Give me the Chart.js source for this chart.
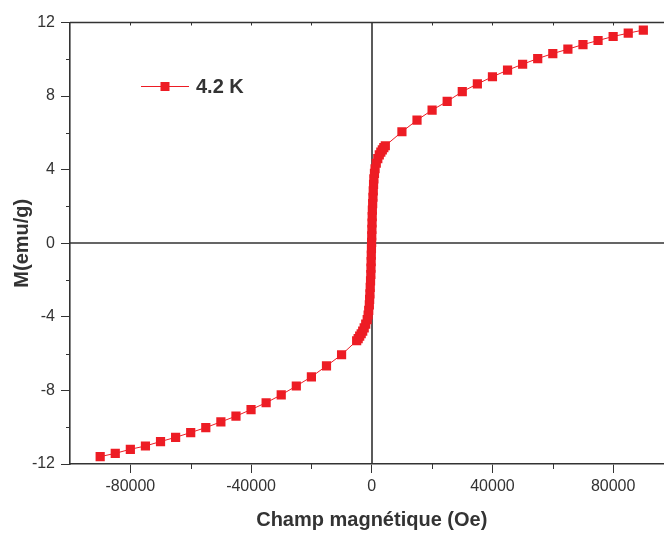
<!DOCTYPE html>
<html>
<head>
<meta charset="utf-8">
<title>M(H) 4.2 K</title>
<script src="https://cdn.jsdelivr.net/npm/chart.js@4/dist/chart.umd.min.js"></script>
<style>
    html, body { margin: 0; padding: 0; background: #ffffff; overflow: hidden; }
    /* la figure d'origine est coupee a droite */
    .wrap { position: relative; width: 664px; height: 533px; overflow: hidden; }
</style>
</head>
<body>
<div class="wrap">
    <canvas id="chart-1" width="680" height="533"></canvas>
</div>
<script>
// champ magnetique (Oe) et aimantation (emu/g)
const champ = [
    -90000, -85000, -80000, -75000, -70000, -65000, -60000, -55000, -50000,
    -45000, -40000, -35000, -30000, -25000, -20000, -15000, -10000,
    -5000, -4500, -4000, -3500, -3000, -2500, -2000, -1500, -1200, -1000,
    -800, -700, -600, -500, -400, -300, -250, -200, -150, -100, -50,
    0, 50, 100, 150, 200, 300, 400, 500, 600, 700, 900, 1100,
    1500, 2000, 2500, 3000, 3500, 4000, 4500,
    10000, 15000, 20000, 25000, 30000, 35000, 40000, 45000,
    50000, 55000, 60000, 65000, 70000, 75000, 80000, 85000, 90000
];
const aimantation = [
    -11.60, -11.42, -11.20, -11.02, -10.78, -10.55, -10.29, -10.02, -9.71,
    -9.40, -9.04, -8.67, -8.24, -7.76, -7.26, -6.67, -6.06,
    -5.30, -5.18, -5.05, -4.92, -4.78, -4.60, -4.40, -4.15, -3.90, -3.65,
    -3.35, -3.05, -2.75, -2.40, -2.05, -1.70, -1.35, -1.00, -0.65, -0.30, 0.05,
    0.40, 0.75, 1.10, 1.45, 1.80, 2.15, 2.50, 2.85, 3.20, 3.50, 3.80, 4.05,
    4.35, 4.60, 4.80, 4.95, 5.08, 5.20, 5.30,
    6.06, 6.69, 7.24, 7.71, 8.24, 8.66, 9.05, 9.41,
    9.73, 10.04, 10.31, 10.55, 10.80, 11.02, 11.24, 11.42, 11.59
];
const serieLabel = '4.2 K';
const xTicks = [-80000, -40000, 0, 40000, 80000];
const xMinorTicks = [-60000, -20000, 20000, 60000];
const yTicks = [-12, -8, -4, 0, 4, 8, 12];
const yMinorTicks = [-10, -6, -2, 2, 6, 10];

const rouge = '#ed1c24';
const gris = '#333333';

const points = champ.map((h, i) => ({x: h, y: aimantation[i]}));

// lignes du zero, cadre du haut, petites graduations, legende
const decor = {
    id: 'decor',
    beforeDatasetsDraw(chart) {
        const {ctx, chartArea, scales} = chart;
        const x0 = Math.round(scales.x.getPixelForValue(0));
        const y0 = Math.round(scales.y.getPixelForValue(0));
        ctx.save();
        ctx.strokeStyle = gris;
        ctx.lineWidth = 1.6;
        ctx.beginPath();
        ctx.moveTo(x0, chartArea.top);
        ctx.lineTo(x0, chartArea.bottom);
        ctx.moveTo(chartArea.left, y0);
        ctx.lineTo(chartArea.right, y0);
        ctx.stroke();
        ctx.restore();
    },
    afterDraw(chart) {
        const {ctx, chartArea, scales} = chart;
        ctx.save();
        ctx.strokeStyle = gris;
        ctx.lineWidth = 1.6;
        ctx.beginPath();
        ctx.moveTo(chartArea.left, chartArea.top);
        ctx.lineTo(chartArea.right, chartArea.top);
        ctx.stroke();

        ctx.lineWidth = 1;
        ctx.beginPath();
        xMinorTicks.forEach((v) => {
            const px = Math.round(scales.x.getPixelForValue(v)) + 0.5;
            ctx.moveTo(px, chartArea.bottom);
            ctx.lineTo(px, chartArea.bottom + 5);
        });
        xMinorTicks.concat(xTicks).forEach((v) => {
            if (v === 0) return;
            const px = Math.round(scales.x.getPixelForValue(v)) + 0.5;
            ctx.moveTo(px, chartArea.top);
            ctx.lineTo(px, chartArea.top + 3);
        });
        yMinorTicks.forEach((v) => {
            const py = Math.round(scales.y.getPixelForValue(v)) + 0.5;
            ctx.moveTo(chartArea.left, py);
            ctx.lineTo(chartArea.left - 4, py);
        });
        ctx.stroke();

        // legende
        const ly = 86;
        ctx.strokeStyle = rouge;
        ctx.lineWidth = 1;
        ctx.beginPath();
        ctx.moveTo(141, ly + 0.5);
        ctx.lineTo(189, ly + 0.5);
        ctx.stroke();
        ctx.fillStyle = rouge;
        ctx.fillRect(160.5, ly - 4, 9, 9);
        ctx.fillStyle = gris;
        ctx.font = 'bold 20px "Liberation Sans", Arial, sans-serif';
        ctx.textAlign = 'left';
        ctx.textBaseline = 'middle';
        ctx.fillText(serieLabel, 196, ly + 1);
        ctx.restore();
    }
};

const data = {
    datasets: [
        {
            label: serieLabel,
            data: points,
            showLine: true,
            borderColor: rouge,
            borderWidth: 1,
            backgroundColor: rouge,
            pointStyle: 'rect',
            pointRadius: 6.5,
            pointBorderWidth: 0,
            pointHoverRadius: 6.5
        }
    ]
};

const tickFont = {family: '"Liberation Sans", Arial, sans-serif', size: 16};
const titleFont = {family: '"Liberation Sans", Arial, sans-serif', size: 20, weight: 'bold'};

const config = {
    type: 'scatter',
    data: data,
    options: {
        responsive: false,
        animation: false,
        layout: {padding: {top: 22.5, right: 0, bottom: 0, left: 0}},
        plugins: {
            legend: {display: false},
            tooltip: {enabled: false}
        },
        scales: {
            x: {
                type: 'linear',
                min: -100000,
                max: 100000,
                afterBuildTicks: (scale) => {
                    scale.ticks = xTicks.map((v) => ({value: v}));
                },
                afterFit: (scale) => {
                    scale.height = 69;
                    scale.paddingLeft = 0;
                    scale.paddingRight = 0;
                },
                border: {color: gris, width: 1.6},
                grid: {
                    drawOnChartArea: false,
                    tickLength: 9,
                    tickWidth: 1,
                    tickColor: gris
                },
                ticks: {
                    autoSkip: false,
                    maxRotation: 0,
                    padding: 4,
                    color: gris,
                    font: tickFont,
                    callback: (v) => String(v)
                },
                title: {
                    display: true,
                    text: 'Champ magnétique (Oe)',
                    color: gris,
                    font: titleFont,
                    padding: {top: 0, bottom: 1}
                }
            },
            y: {
                min: -12,
                max: 12,
                afterBuildTicks: (scale) => {
                    scale.ticks = yTicks.map((v) => ({value: v}));
                },
                afterFit: (scale) => {
                    scale.width = 70;
                    scale.paddingTop = 0;
                    scale.paddingBottom = 0;
                },
                border: {color: gris, width: 1.6},
                grid: {
                    drawOnChartArea: false,
                    tickLength: 9,
                    tickWidth: 1,
                    tickColor: gris
                },
                ticks: {
                    autoSkip: false,
                    padding: 6,
                    color: gris,
                    font: tickFont,
                    callback: (v) => String(v)
                },
                title: {
                    display: true,
                    text: 'M(emu/g)',
                    color: gris,
                    font: titleFont,
                    padding: {top: 10, bottom: 0}
                }
            }
        }
    },
    plugins: [decor]
};

const ctx = document.getElementById('chart-1').getContext('2d');
new Chart(ctx, config);
</script>
</body>
</html>
